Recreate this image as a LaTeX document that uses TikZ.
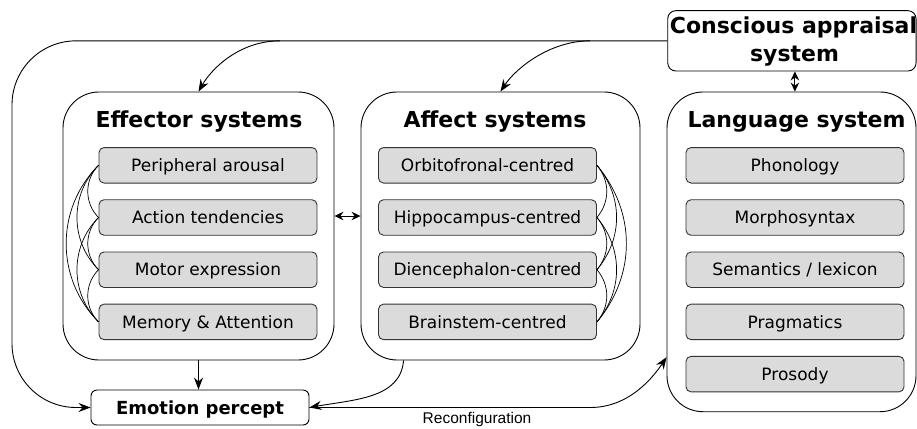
\documentclass[tikz,border=0pt]{standalone}
\usepackage{fontspec}
\setmainfont{DejaVu Sans}
\newfontfamily\arialfont{Liberation Sans}
\usetikzlibrary{arrows.meta}
\begin{document}
\begin{tikzpicture}[x=1pt,y=-1pt, line width=0.9pt,
  bigbox/.style={draw, rounded corners=36pt, inner sep=0pt},
  subbox/.style={draw=black!80, fill=black!14, rounded corners=5pt, minimum width=218pt, minimum height=35.5pt, inner sep=0pt, text height=12.4pt, text depth=0pt, font=\fontsize{17}{20}\selectfont},
  title/.style={font=\fontsize{22}{28}\selectfont\bfseries, inner sep=0pt, anchor=base},
  arr/.style={-{Stealth[length=12pt,width=9pt,inset=4pt]}},
  darr/.style={{Stealth[length=9pt,width=8.5pt,inset=3pt]}-{Stealth[length=9pt,width=8.5pt,inset=3pt]}},
  link/.style={line width=0.7pt}
]
\useasboundingbox (0,0) rectangle (917,428);
% big boxes
\node[bigbox, minimum width=271pt, minimum height=268pt] (eff) at (198.5,226) {};
\node[bigbox, minimum width=279pt, minimum height=268pt] (aff) at (500.5,226) {};
\node[bigbox, minimum width=249pt, minimum height=319.7pt] (lang) at (791.5,251.85) {};
\node[draw, rounded corners=8pt, minimum width=248.3pt, minimum height=60.3pt, inner sep=0pt] (cas) at (791.9,40.85) {};
\node[title] (casTa) at (793.5,33.3) {Conscious appraisal};
\node[title] (casTb) at (794.5,61.7) {system};
\node[title] (effT) at (199,127.7) {Effector systems};
\node[title] (affT) at (495,127.7) {Affect systems};
\node[title] (langT) at (796.5,127.7) {Language system};
% sub boxes
\node[subbox] (e1) at (208,165.3) {Peripheral arousal};
\node[subbox] (e2) at (208,217.5) {Action tendencies};
\node[subbox] (e3) at (208,269.7) {Motor expression};
\node[subbox] (e4) at (208,321.9) {Memory \& Attention};
\node[subbox] (a1) at (487.5,165.3) {Orbitofronal-centred};
\node[subbox] (a2) at (487.5,217.5) {Hippocampus-centred};
\node[subbox] (a3) at (487.5,269.7) {Diencephalon-centred};
\node[subbox] (a4) at (487.5,321.9) {Brainstem-centred};
\node[subbox] (l1) at (795,165.3) {Phonology};
\node[subbox] (l2) at (795,217.5) {Morphosyntax};
\node[subbox] (l3) at (795,269.7) {Semantics / lexicon};
\node[subbox] (l4) at (795,321.9) {Pragmatics};
\node[subbox] (l5) at (795,374.1) {Prosody};
% emotion percept
\node[draw, rounded corners=6pt, minimum width=218pt, minimum height=35pt, inner sep=0pt, text height=13.1pt, text depth=0pt, font=\fontsize{18}{22}\selectfont\bfseries] (emo) at (200,407.5) {Emotion percept};
% inner links
\foreach \a/\b in {e1/e2,e1/e3,e1/e4,e2/e3,e2/e4,e3/e4}
  \draw[link] (\a.west) to[bend right=45] (\b.west);
\foreach \a/\b in {a1/a2,a1/a3,a1/a4,a2/a3,a2/a4,a3/a4}
  \draw[link] (\a.east) to[bend left=40] (\b.east);
% connectors
\coordinate (b1) at (280,40.85);
\coordinate (b2) at (590,40.85);
\draw[arr, rounded corners=64pt] (cas.west) -- (12,40.85) -- (12,407.5) -- (emo.west);
\draw[arr] (b1) .. controls (240,40.85) and (212,68) .. (eff.north);
\draw[arr] (b2) .. controls (550,40.85) and (516,68) .. (aff.north);
\draw[arr] (eff.south) -- (eff.south |- emo.north);
\draw[arr] ([xshift=43pt]aff.south west) .. controls +(-3,38) and +(45,-8) .. (emo.east);
\draw[arr] (emo.east) -- ++(281,0) .. controls +(40,0) and +(-12,18) .. ([yshift=55pt]lang.south west);
\node[font=\arialfont\fontsize{15.5}{18}\selectfont, anchor=base, inner sep=0pt] (rec) at (477,423.7) {Reconfiguration};
\draw[darr] ([yshift=10pt]eff.east) -- ([yshift=10pt]aff.west);
\draw[darr] ([xshift=3pt]cas.south) -- ([xshift=3pt]cas.south |- lang.north);
\end{tikzpicture}
\end{document}
